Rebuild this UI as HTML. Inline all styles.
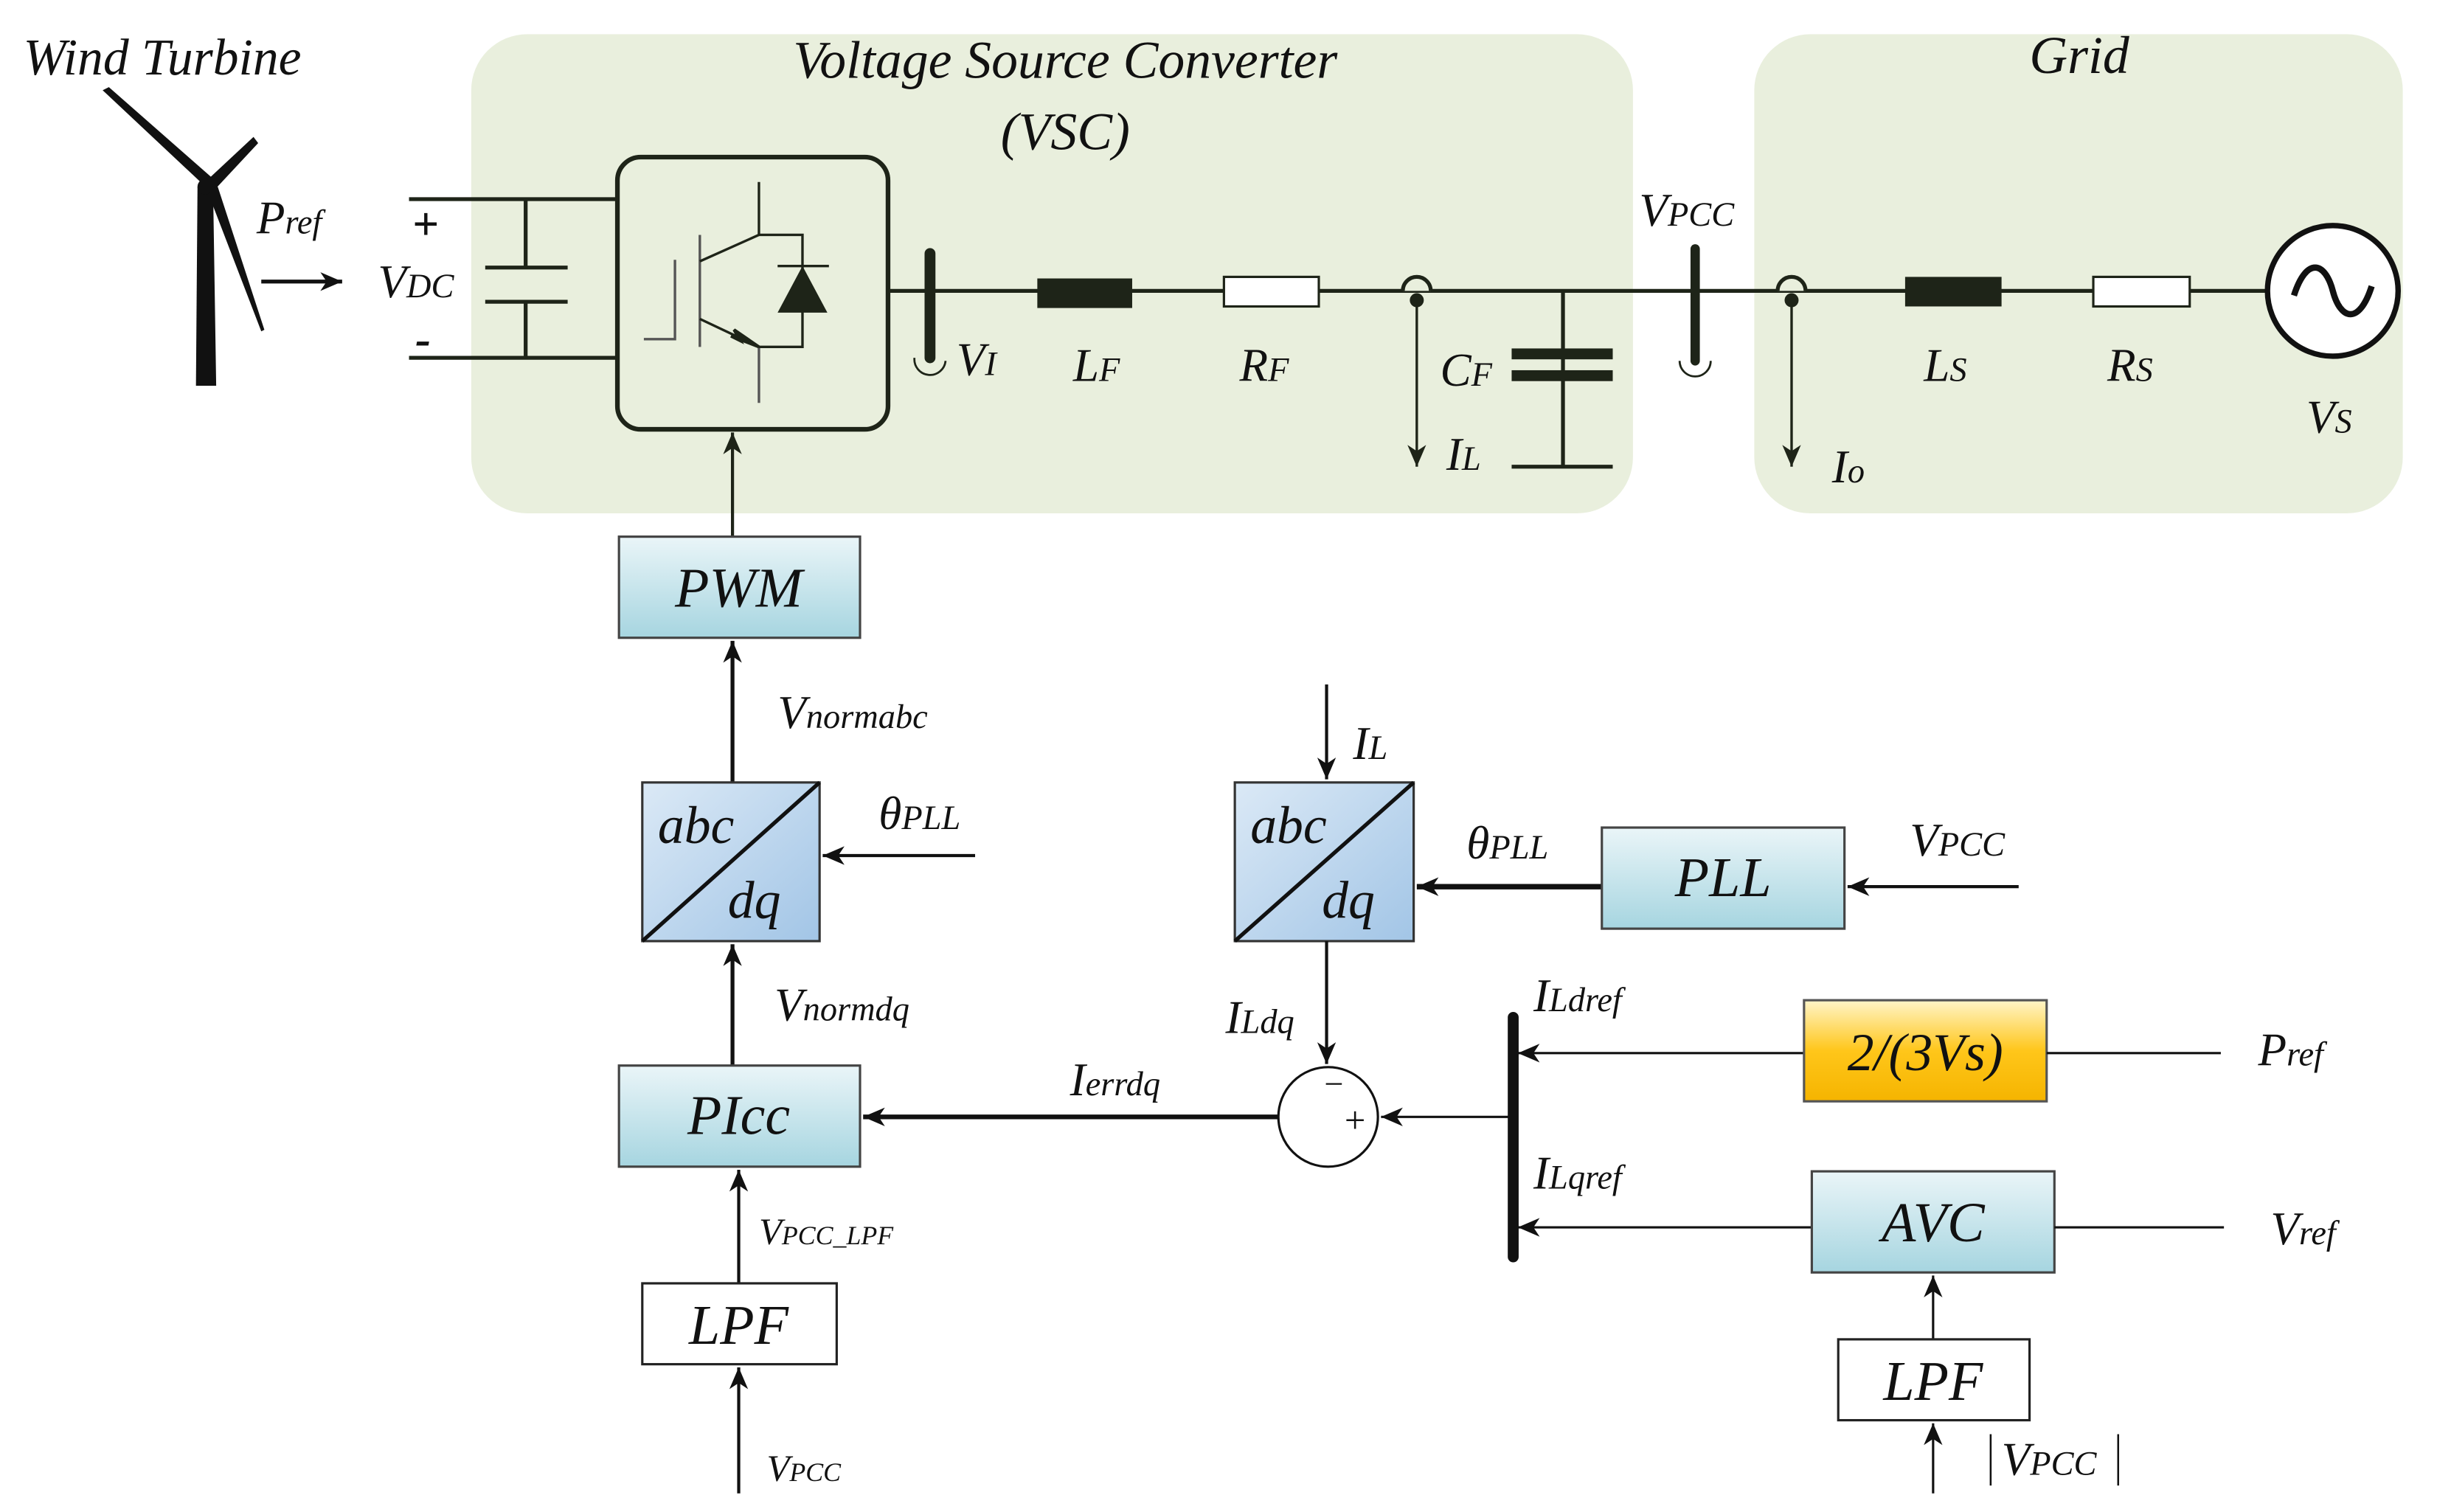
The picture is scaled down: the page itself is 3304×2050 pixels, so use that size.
<!DOCTYPE html>
<html><head><meta charset="utf-8">
<style>
html,body{margin:0;padding:0;background:#fff;}
svg{display:block;}
text{font-family:"Liberation Serif","Times New Roman","Tinos",serif;font-style:italic;fill:#111;}
</style></head><body>
<svg width="3304" height="2050" viewBox="0 0 1567 972" preserveAspectRatio="none" xmlns="http://www.w3.org/2000/svg">
<defs>
<marker id="a" markerUnits="userSpaceOnUse" markerWidth="16" markerHeight="14" refX="14" refY="7" orient="auto"><path d="M0,1 L14,7 L0,13 L4,7 Z" fill="#111"/></marker>
<marker id="b" markerUnits="userSpaceOnUse" markerWidth="16" markerHeight="14" refX="14" refY="7" orient="auto"><path d="M0,1 L14,7 L0,13 L4,7 Z" fill="#1e2418"/></marker>
<linearGradient id="blue" x1="0" y1="0" x2="0" y2="1"><stop offset="0" stop-color="#eaf5f8"/><stop offset="1" stop-color="#a6d5e0"/></linearGradient>
<linearGradient id="blue2" x1="0" y1="0" x2="1" y2="1"><stop offset="0" stop-color="#dbe9f6"/><stop offset="1" stop-color="#a2c5e6"/></linearGradient>
<linearGradient id="org" x1="0" y1="0" x2="0" y2="1"><stop offset="0" stop-color="#fff5c8"/><stop offset="0.5" stop-color="#ffc61a"/><stop offset="1" stop-color="#f5b400"/></linearGradient>
</defs>

<rect x="303" y="22" width="747" height="308" rx="36" fill="#e9efdd"/>
<rect x="1128" y="22" width="417" height="308" rx="36" fill="#e9efdd"/>
<text x="685" y="50" font-size="34" text-anchor="middle">Voltage Source Converter</text>
<text x="685" y="96" font-size="34" text-anchor="middle">(VSC)</text>
<text x="1337" y="47" font-size="34" text-anchor="middle">Grid</text>

<text x="15" y="48" font-size="33">Wind Turbine</text>
<path d="M127,120 L137,120 L139,248 L126,248 Z" fill="#111"/>
<path d="M130,118 L66,58 L70,56 L136,114 Z" fill="#111"/>
<path d="M133,116 L163,88 L166,92 L138,122 Z" fill="#111"/>
<path d="M133,122 L140,120 L170,212 L168,213 Z" fill="#111"/>
<circle cx="132" cy="120" r="5" fill="#111"/>
<text x="165" y="150" font-size="30">P<tspan font-size="22">ref</tspan></text>
<line x1="168" y1="181" x2="220" y2="181" stroke="#111" stroke-width="2.5" marker-end="url(#a)"/>
<text x="265" y="154" font-size="30" font-style="normal" font-weight="bold">+</text>
<text x="243" y="191" font-size="30">V<tspan font-size="22">DC</tspan></text>
<text x="267" y="228" font-size="30" font-style="normal" font-weight="bold">-</text>

<g stroke="#1e2418" stroke-width="2.5" fill="none">
<line x1="263" y1="128" x2="398" y2="128"/>
<line x1="263" y1="230" x2="398" y2="230"/>
<line x1="338" y1="128" x2="338" y2="172"/>
<line x1="338" y1="194" x2="338" y2="230"/>
<line x1="312" y1="172" x2="365" y2="172"/>
<line x1="312" y1="194" x2="365" y2="194"/>
</g>

<rect x="397" y="101" width="174" height="175" rx="15" fill="none" stroke="#1e2418" stroke-width="3"/>
<g stroke="#1e2418" stroke-width="1.6" fill="none">
<line x1="488" y1="117" x2="488" y2="151"/>
<line x1="450" y1="151" x2="450" y2="223" stroke="#555"/>
<line x1="450" y1="168" x2="488" y2="151"/>
<line x1="450" y1="205" x2="488" y2="223"/>
<line x1="488" y1="223" x2="488" y2="259" stroke="#555"/>
<polyline points="488,151 516,151 516,223 488,223"/>
<polyline points="414,218 434,218 434,167" stroke="#555"/>
<line x1="500" y1="171" x2="533" y2="171"/>
</g>
<path d="M516,171 L532,201 L500,201 Z" fill="#1e2418"/>
<path d="M488,223 L472,212 L476,219 L470,216 Z" fill="#1e2418" stroke="#1e2418" stroke-width="2"/>

<line x1="571" y1="187" x2="1457" y2="187" stroke="#1e2418" stroke-width="2.5"/>
<line x1="598" y1="163" x2="598" y2="230" stroke="#1e2418" stroke-width="7" stroke-linecap="round"/>
<path d="M588,230 A10,10 0 0 0 608,232" fill="none" stroke="#1e2418" stroke-width="1.3"/>
<text x="615" y="241" font-size="30">V<tspan font-size="22">I</tspan></text>
<rect x="667" y="179" width="61" height="19" fill="#1e2418"/>
<text x="690" y="245" font-size="30">L<tspan font-size="22">F</tspan></text>
<rect x="787" y="178" width="61" height="19" fill="#fff" stroke="#1e2418" stroke-width="1.5"/>
<text x="797" y="245" font-size="30">R<tspan font-size="22">F</tspan></text>

<path d="M902,187 A9,9 0 0 1 920,187" fill="#e9efdd" stroke="#1e2418" stroke-width="2.5"/>
<circle cx="911" cy="193" r="4.5" fill="#1e2418"/>
<line x1="911" y1="193" x2="911" y2="300" stroke="#1e2418" stroke-width="1.6" marker-end="url(#b)"/>
<text x="930" y="302" font-size="30">I<tspan font-size="22">L</tspan></text>
<line x1="1005" y1="187" x2="1005" y2="300" stroke="#1e2418" stroke-width="2.5"/>
<rect x="972" y="224" width="65" height="7" fill="#1e2418"/>
<rect x="972" y="238" width="65" height="7" fill="#1e2418"/>
<line x1="972" y1="300" x2="1037" y2="300" stroke="#1e2418" stroke-width="2.5"/>
<text x="926" y="248" font-size="30">C<tspan font-size="22">F</tspan></text>

<line x1="1090" y1="160" x2="1090" y2="232" stroke="#1e2418" stroke-width="6" stroke-linecap="round"/>
<path d="M1080,232 A10,10 0 0 0 1100,232" fill="none" stroke="#1e2418" stroke-width="1.3"/>
<text x="1054" y="145" font-size="30">V<tspan font-size="22">PCC</tspan></text>
<path d="M1143,187 A9,9 0 0 1 1161,187" fill="#e9efdd" stroke="#1e2418" stroke-width="2.5"/>
<circle cx="1152" cy="193" r="4.5" fill="#1e2418"/>
<line x1="1152" y1="193" x2="1152" y2="300" stroke="#1e2418" stroke-width="1.6" marker-end="url(#b)"/>
<text x="1178" y="310" font-size="30">I<tspan font-size="22">o</tspan></text>
<rect x="1225" y="178" width="62" height="19" fill="#1e2418"/>
<text x="1237" y="245" font-size="30">L<tspan font-size="22">S</tspan></text>
<rect x="1346" y="178" width="62" height="19" fill="#fff" stroke="#1e2418" stroke-width="1.5"/>
<text x="1355" y="245" font-size="30">R<tspan font-size="22">S</tspan></text>
<circle cx="1500" cy="187" r="42" fill="#fff" stroke="#111" stroke-width="3.5"/>
<path d="M1475,190 C1483,165 1495,168 1500,187 C1505,206 1517,209 1525,184" fill="none" stroke="#111" stroke-width="4"/>
<text x="1483" y="278" font-size="30">V<tspan font-size="22">S</tspan></text>

<line x1="471" y1="345" x2="471" y2="278" stroke="#1e2418" stroke-width="2" marker-end="url(#b)"/>
<rect x="398" y="345" width="155" height="65" fill="url(#blue)" stroke="#444" stroke-width="1.5"/>
<text x="475" y="390" font-size="36" text-anchor="middle">PWM</text>
<line x1="471" y1="503" x2="471" y2="412" stroke="#111" stroke-width="2.5" marker-end="url(#a)"/>
<text x="500" y="468" font-size="30">V<tspan font-size="22">normabc</tspan></text>

<rect x="413" y="503" width="114" height="102" fill="url(#blue2)" stroke="#333" stroke-width="1.5"/>
<line x1="413" y1="605" x2="527" y2="503" stroke="#111" stroke-width="2.5"/>
<text x="423" y="542" font-size="34">abc</text>
<text x="468" y="590" font-size="34">dq</text>
<line x1="627" y1="550" x2="529" y2="550" stroke="#111" stroke-width="2" marker-end="url(#a)"/>
<text x="565" y="533" font-size="30">θ<tspan font-size="22">PLL</tspan></text>

<line x1="471" y1="685" x2="471" y2="607" stroke="#111" stroke-width="2.5" marker-end="url(#a)"/>
<text x="498" y="656" font-size="30">V<tspan font-size="22">normdq</tspan></text>
<rect x="398" y="685" width="155" height="65" fill="url(#blue)" stroke="#444" stroke-width="1.5"/>
<text x="475" y="729" font-size="36" text-anchor="middle">PIcc</text>
<line x1="822" y1="718" x2="555" y2="718" stroke="#111" stroke-width="3" marker-end="url(#a)"/>
<text x="688" y="704" font-size="30">I<tspan font-size="22">errdq</tspan></text>

<line x1="475" y1="825" x2="475" y2="752" stroke="#111" stroke-width="2" marker-end="url(#a)"/>
<text x="488" y="800" font-size="24">V<tspan font-size="17">PCC_LPF</tspan></text>
<rect x="413" y="825" width="125" height="52" fill="#fff" stroke="#222" stroke-width="1.5"/>
<text x="475" y="864" font-size="36" text-anchor="middle">LPF</text>
<line x1="475" y1="960" x2="475" y2="879" stroke="#111" stroke-width="2" marker-end="url(#a)"/>
<text x="493" y="952" font-size="24">V<tspan font-size="17">PCC</tspan></text>

<line x1="853" y1="440" x2="853" y2="501" stroke="#111" stroke-width="2" marker-end="url(#a)"/>
<text x="870" y="488" font-size="30">I<tspan font-size="22">L</tspan></text>
<rect x="794" y="503" width="115" height="102" fill="url(#blue2)" stroke="#333" stroke-width="1.5"/>
<line x1="794" y1="605" x2="909" y2="503" stroke="#111" stroke-width="2.5"/>
<text x="804" y="542" font-size="34">abc</text>
<text x="850" y="590" font-size="34">dq</text>
<line x1="1030" y1="570" x2="911" y2="570" stroke="#111" stroke-width="3.5" marker-end="url(#a)"/>
<text x="943" y="552" font-size="30">θ<tspan font-size="22">PLL</tspan></text>
<rect x="1030" y="532" width="156" height="65" fill="url(#blue)" stroke="#444" stroke-width="1.5"/>
<text x="1108" y="576" font-size="36" text-anchor="middle">PLL</text>
<line x1="1298" y1="570" x2="1188" y2="570" stroke="#111" stroke-width="2" marker-end="url(#a)"/>
<text x="1228" y="550" font-size="30">V<tspan font-size="22">PCC</tspan></text>

<line x1="853" y1="605" x2="853" y2="684" stroke="#111" stroke-width="2" marker-end="url(#a)"/>
<text x="788" y="664" font-size="30">I<tspan font-size="22">Ldq</tspan></text>
<circle cx="854" cy="718" r="32" fill="#fff" stroke="#111" stroke-width="1.5"/>
<text x="850" y="704" font-size="22" font-style="normal">−</text>
<text x="863" y="728" font-size="24" font-style="normal">+</text>
<line x1="973" y1="718" x2="888" y2="718" stroke="#111" stroke-width="1.5" marker-end="url(#a)"/>
<line x1="973" y1="654" x2="973" y2="808" stroke="#111" stroke-width="7" stroke-linecap="round"/>
<text x="986" y="650" font-size="30">I<tspan font-size="22">Ldref</tspan></text>
<text x="986" y="764" font-size="30">I<tspan font-size="22">Lqref</tspan></text>

<line x1="1160" y1="677" x2="976" y2="677" stroke="#111" stroke-width="1.5" marker-end="url(#a)"/>
<rect x="1160" y="643" width="156" height="65" fill="url(#org)" stroke="#555" stroke-width="1.5"/>
<text x="1238" y="688" font-size="34" text-anchor="middle">2/(3Vs)</text>
<line x1="1316" y1="677" x2="1428" y2="677" stroke="#111" stroke-width="1.5"/>
<text x="1452" y="685" font-size="30">P<tspan font-size="22">ref</tspan></text>

<line x1="1165" y1="789" x2="976" y2="789" stroke="#111" stroke-width="1.5" marker-end="url(#a)"/>
<rect x="1165" y="753" width="156" height="65" fill="url(#blue)" stroke="#444" stroke-width="1.5"/>
<text x="1243" y="798" font-size="36" text-anchor="middle">AVC</text>
<line x1="1321" y1="789" x2="1430" y2="789" stroke="#111" stroke-width="1.5"/>
<text x="1460" y="800" font-size="30">V<tspan font-size="22">ref</tspan></text>

<line x1="1243" y1="861" x2="1243" y2="820" stroke="#111" stroke-width="1.5" marker-end="url(#a)"/>
<rect x="1182" y="861" width="123" height="52" fill="#fff" stroke="#222" stroke-width="1.5"/>
<text x="1243" y="900" font-size="36" text-anchor="middle">LPF</text>
<line x1="1243" y1="960" x2="1243" y2="915" stroke="#111" stroke-width="1.5" marker-end="url(#a)"/>
<line x1="1280" y1="922" x2="1280" y2="955" stroke="#111" stroke-width="1.2"/>
<text x="1287" y="948" font-size="30">V<tspan font-size="22">PCC</tspan></text>
<line x1="1362" y1="922" x2="1362" y2="955" stroke="#111" stroke-width="1.2"/>
</svg>
</body></html>
